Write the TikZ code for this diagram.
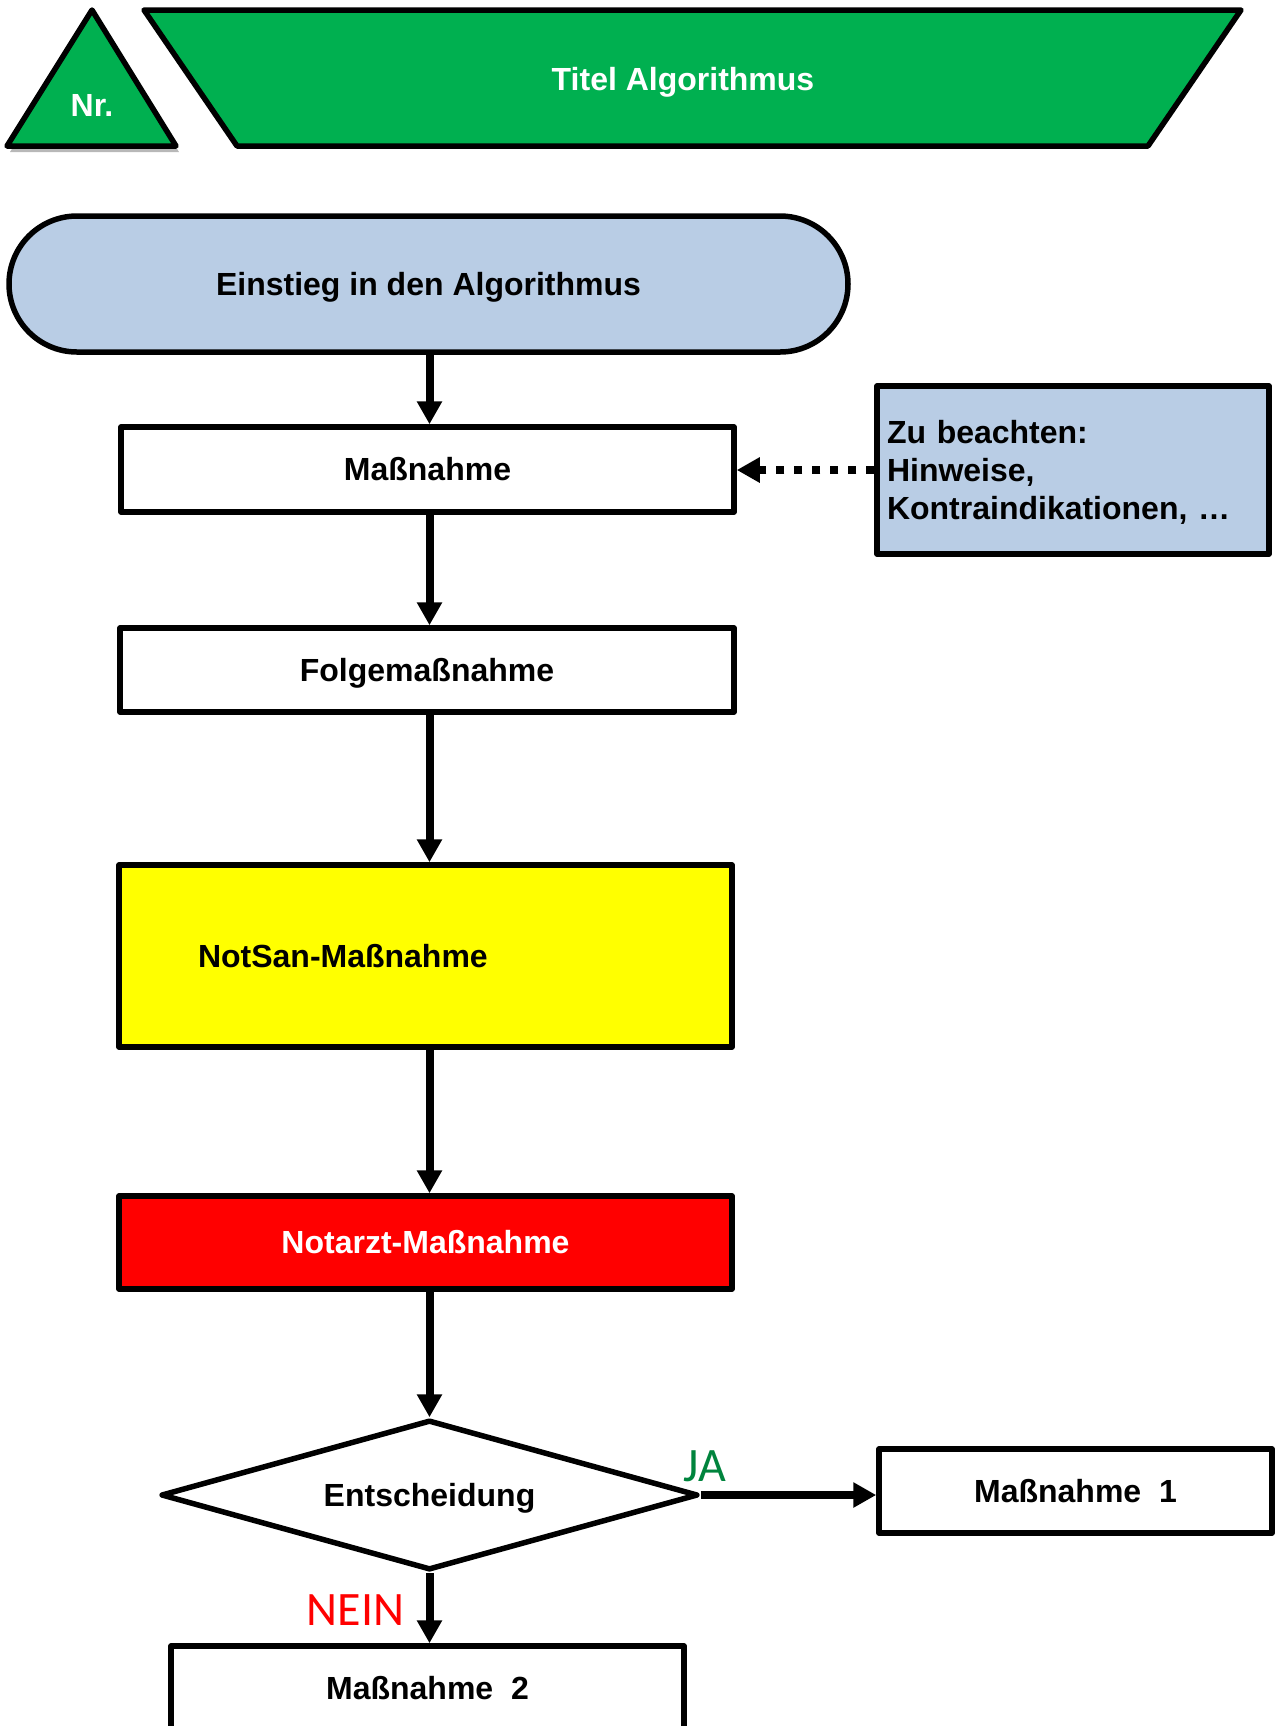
\documentclass[tikz,border=0pt]{standalone}
\usepackage{fontspec}
\setmainfont{Liberation Sans}
\newfontfamily\decfont{Carlito}
\usetikzlibrary{arrows.meta,shapes.geometric,shadows}

\definecolor{titlegreen}{HTML}{00B050}
\definecolor{paleblue}{HTML}{B9CDE5}
\definecolor{nsyellow}{HTML}{FFFF00}
\definecolor{nared}{HTML}{FF0000}
\definecolor{jagreen}{HTML}{00843D}
\definecolor{neinred}{HTML}{FF0000}

\begin{document}
\begin{tikzpicture}[x=0.5pt,y=-0.5pt,
  every node/.style={font=\fontsize{16}{19}\selectfont\bfseries},
  line/.style={text height=14.5pt, text depth=3.4pt},
  outline/.style={draw=black, line width=2.75pt, line join=round},
  box/.style={outline, rectangle, inner sep=0pt, line},
  flow/.style={line width=4pt, -{Triangle[length=11.5pt,width=12pt]}},
  hint/.style={flow, dash pattern=on 4pt off 5pt},
  branch/.style={font=\decfont\fontsize{24}{28}\selectfont},
]
\useasboundingbox (0,0) rectangle (1279,1726);
\clip (0,0) rectangle (1279,1726);

% header: number triangle and title banner
\path[outline, fill=titlegreen,
      drop shadow={shadow xshift=1.5pt, shadow yshift=-3pt, opacity=0.35, fill=black!80}]
  (92,10) -- (176,146) -- (7,146) -- cycle;
\node[text=white, line] (nr) at (92,105) {Nr.};
\path[outline, fill=titlegreen] (144,10) -- (1241,10) -- (1148,146) -- (237,146) -- cycle;
\node[text=white, line] (title) at (683,79) {Titel Algorithmus};

% flow chart
\node[box, fill=paleblue, minimum width=419.5pt, minimum height=68pt, rounded corners=34pt]
  (start) at (428.5,284) {Einstieg in den Algorithmus};
\node[box, minimum width=306.5pt, minimum height=42.5pt] (m) at (427.5,469.5) {Maßnahme};
\node[outline, rectangle, fill=paleblue, minimum width=196pt, minimum height=84pt,
      text width=186pt, inner xsep=5pt, inner ysep=0pt, align=left] (note) at (1073,470)
  {\raisebox{-1.2pt}[\height][\depth]{\parbox{186pt}{\raggedright
   Zu beachten:\\Hinweise,\\Kontraindikationen, \dots}}};
\node[box, minimum width=307pt, minimum height=42pt] (f) at (427,670) {Folgemaßnahme};
\node[box, fill=nsyellow, minimum width=306.5pt, minimum height=91pt, text width=227.5pt,
      inner xsep=39.5pt, align=left] (ns) at (425.5,956) {NotSan-Maßnahme};
\node[box, fill=nared, text=white, minimum width=306.5pt, minimum height=46.5pt]
  (na) at (425.5,1242.5) {Notarzt-Maßnahme};
\node[outline, diamond, aspect=3.58, minimum width=268.5pt, minimum height=75pt,
      inner sep=0pt, line] (d) at (429.5,1495) {Entscheidung};
\node[box, minimum width=196.5pt, minimum height=42pt] (m1) at (1075.5,1491) {Maßnahme\ \ 1};
\node[box, minimum width=256.5pt, minimum height=42.5pt] (m2) at (427.5,1688.5) {Maßnahme\ \ 2};

\node[branch, text=jagreen] (ja) at (705,1466) {JA};
\node[branch, text=neinred] (nein) at (355.5,1610) {NEIN};

% connectors
\draw[flow] (d.north |- start.south) -- (d.north |- m.north);
\draw[flow] (d.north |- m.south) -- (d.north |- f.north);
\draw[flow] (d.north |- f.south) -- (d.north |- ns.north);
\draw[flow] (d.north |- ns.south) -- (d.north |- na.north);
\draw[flow] (d.north |- na.south) -- (d.north);
\draw[flow] (d.east) -- (d.east -| m1.west);
\draw[flow] (d.south) -- (d.south |- m2.north);
\draw[hint] (note.west) -- (note.west -| m.east);
\end{tikzpicture}
\end{document}
